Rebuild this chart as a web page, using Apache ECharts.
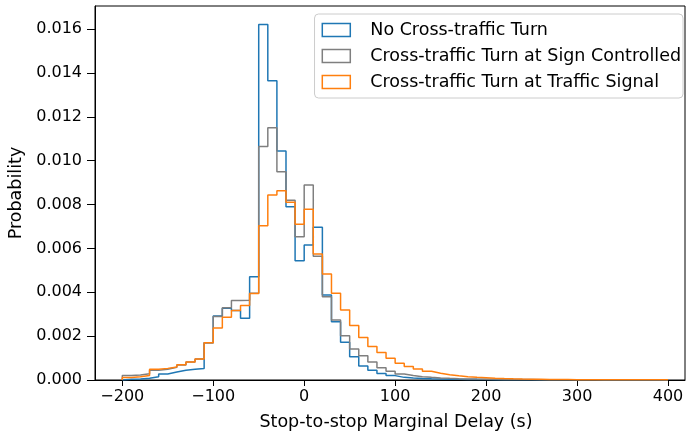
<!DOCTYPE html>
<html>
<head>
<meta charset="utf-8">
<script src="https://cdn.jsdelivr.net/npm/echarts@6/dist/echarts.min.js"></script>
<style>
  html, body { margin: 0; padding: 0; background: #fff; }
  #chart { width: 686px; height: 432px; }
</style>
</head>
<body>
<div id="chart"></div>
<script>
// Histogram bin edges (seconds), 10 s wide bins
const binEdges = [
  -200, -190, -180, -170, -160, -150, -140, -130, -120, -110,
  -100, -90, -80, -70, -60, -50, -40, -30, -20, -10,
  0, 10, 20, 30, 40, 50, 60, 70, 80, 90,
  100, 110, 120, 130, 140, 150, 160, 170, 180, 190,
  200, 210, 220, 230, 240, 250, 260, 270, 280, 290,
  300, 310, 320, 330, 340, 350, 360, 370, 380, 390,
  400
];

const seriesNames = [
  'No Cross-traffic Turn',
  'Cross-traffic Turn at Sign Controlled',
  'Cross-traffic Turn at Traffic Signal'
];

// Probability per bin
const noTurn = [
  0.00003, 0.00005, 0.00008, 0.00015, 0.00027, 0.00036, 0.00044, 0.00049, 0.00052, 0.00170,
  0.00292, 0.00327, 0.00317, 0.00281, 0.00471, 0.01621, 0.01364, 0.01044, 0.00790, 0.00544,
  0.00616, 0.00696, 0.00387, 0.00266, 0.00172, 0.00106, 0.00064, 0.00044, 0.00030, 0.00020,
  0.00012, 0.00009, 0.00007, 0.000055, 0.000045, 0.000035, 0.00003, 0.000025, 0.00002, 0.000018,
  0.000015, 0.000013, 0.000012, 0.000011, 0.00001, 0.000009, 0.000008, 0.000008, 0.000007, 0.000007,
  0.000006, 0.000006, 0.000005, 0.000005, 0.000005, 0.000004, 0.000004, 0.000004, 0.000003, 0.000003
];

const signControlled = [
  0.00020, 0.00023, 0.00029, 0.00044, 0.00049, 0.00058, 0.00068, 0.00082, 0.00096, 0.00170,
  0.00289, 0.00329, 0.00362, 0.00364, 0.00395, 0.01065, 0.01150, 0.00949, 0.00820, 0.00653,
  0.00889, 0.00564, 0.00380, 0.00273, 0.00202, 0.00141, 0.00111, 0.00082, 0.00056, 0.00040,
  0.00027, 0.00020, 0.00015, 0.00012, 0.000095, 0.000075, 0.00006, 0.00005, 0.00004, 0.000035,
  0.00003, 0.000026, 0.000023, 0.00002, 0.000018, 0.000016, 0.000014, 0.000013, 0.000012, 0.000011,
  0.00001, 0.000009, 0.000009, 0.000008, 0.000008, 0.000007, 0.000007, 0.000006, 0.000006, 0.000005
];

const trafficSignal = [
  0.00011, 0.00015, 0.00021, 0.00049, 0.00053, 0.00059, 0.00070, 0.00082, 0.00096, 0.00170,
  0.00237, 0.00286, 0.00317, 0.00340, 0.00394, 0.00703, 0.00843, 0.00863, 0.00810, 0.00710,
  0.00778, 0.00574, 0.00483, 0.00395, 0.00319, 0.00249, 0.00194, 0.00153, 0.00125, 0.00099,
  0.00076, 0.00061, 0.00050, 0.00040, 0.00031, 0.00024, 0.00019, 0.00015, 0.00012, 0.00010,
  0.00008, 0.000065, 0.000052, 0.000042, 0.000035, 0.00003, 0.000025, 0.000021, 0.000018, 0.000016,
  0.000015, 0.000014, 0.000013, 0.000012, 0.000011, 0.00001, 0.000009, 0.000008, 0.000007, 0.000006
];

const xTicks = [-200, -100, 0, 100, 200, 300, 400];
const yTicks = [0, 0.002, 0.004, 0.006, 0.008, 0.010, 0.012, 0.014, 0.016];

const colors = ['#1f77b4', '#7f7f7f', '#ff7f0e'];

// Outline of a step histogram: rise from the baseline at the first edge,
// run across each bin, and drop back to the baseline at the last edge.
function stepOutline(values) {
  const pts = [[binEdges[0], 0]];
  for (let i = 0; i < values.length; i++) {
    pts.push([binEdges[i], values[i]]);
  }
  pts.push([binEdges[binEdges.length - 1], values[values.length - 1]]);
  pts.push([binEdges[binEdges.length - 1], 0]);
  return pts;
}

const FONT = 'DejaVu Sans';
const chart = echarts.init(document.getElementById('chart'), null, { renderer: 'canvas' });

const allSeries = [noTurn, signControlled, trafficSignal].map((vals, i) => ({
  name: seriesNames[i],
  type: 'line',
  step: 'end',
  data: stepOutline(vals),
  showSymbol: false,
  symbol: 'none',
  animation: false,
  lineStyle: { color: colors[i], width: 1.5 },
  itemStyle: { color: colors[i] },
  z: 2 + i
}));

// Legend entries drawn as hollow boxes, like histogram outlines
const legendData = seriesNames.map((name, i) => ({
  name: name,
  icon: 'rect',
  itemStyle: { color: 'rgba(255,255,255,0)', borderColor: colors[i], borderWidth: 1.5 }
}));

chart.setOption({
  animation: false,
  backgroundColor: '#ffffff',
  textStyle: { fontFamily: FONT },
  grid: {
    left: 95, right: 1, top: 6, bottom: 52,
    show: true, borderColor: '#000', borderWidth: 1,
    containLabel: false,
    outerBoundsMode: 'none'
  },
  legend: {
    orient: 'vertical',
    right: 3,
    top: 14,
    padding: [7, 2, 7, 7],
    itemWidth: 28,
    itemHeight: 13,
    itemGap: 8,
    backgroundColor: 'rgba(255,255,255,0.8)',
    borderColor: '#cccccc',
    borderWidth: 1,
    borderRadius: 4,
    textStyle: { fontFamily: FONT, fontSize: 17.5, color: '#000', padding: [0, 0, 0, 15] },
    data: legendData
  },
  xAxis: {
    type: 'value',
    min: -230,
    max: 418.7,
    name: 'Stop-to-stop Marginal Delay (s)',
    nameLocation: 'middle',
    nameGap: 33,
    nameMoveOverlap: false,
    nameTextStyle: { fontFamily: FONT, fontSize: 17.5, color: '#000', padding: [0, 0, 0, 12] },
    axisLine: { onZero: false, lineStyle: { color: '#000', width: 1 } },
    axisTick: { show: true, length: 6, customValues: xTicks, lineStyle: { color: '#000', width: 1 } },
    axisLabel: {
      customValues: xTicks,
      margin: 9,
      fontFamily: FONT, fontSize: 16, color: '#000',
      formatter: v => (v < 0 ? '\u2212' + Math.abs(v) : String(v))
    },
    splitLine: { show: false }
  },
  yAxis: {
    type: 'value',
    min: 0,
    max: 0.01705,
    name: 'Probability',
    nameLocation: 'middle',
    nameGap: 70,
    nameMoveOverlap: false,
    nameTextStyle: { fontFamily: FONT, fontSize: 17.5, color: '#000' },
    axisLine: { show: true, onZero: false, lineStyle: { color: '#000', width: 1 } },
    axisTick: { show: true, length: 8, customValues: yTicks, lineStyle: { color: '#000', width: 1 } },
    axisLabel: {
      customValues: yTicks,
      margin: 13,
      fontFamily: FONT, fontSize: 16, color: '#000',
      formatter: v => v.toFixed(3)
    },
    splitLine: { show: false }
  },
  series: allSeries
});
</script>
</body>
</html>
